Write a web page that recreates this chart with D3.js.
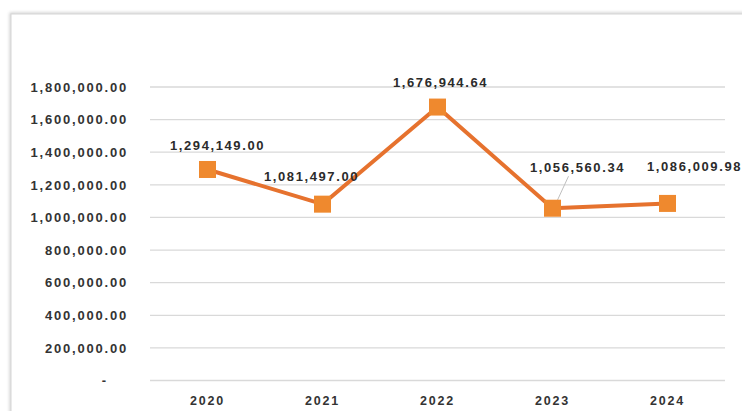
<!DOCTYPE html>
<html>
<head>
<meta charset="utf-8">
<script src="https://cdn.jsdelivr.net/npm/d3@7"></script>
<style>
  html, body { margin: 0; padding: 0; background: #fff; }
  svg { display: block; }
  text { font-family: "Liberation Sans", Arial, sans-serif; }
</style>
</head>
<body>
<svg id="chart" width="742" height="411"></svg>
<script>
// Yearly totals
const years = ["2020", "2021", "2022", "2023", "2024"];
const values = [1294149.00, 1081497.00, 1676944.64, 1056560.34, 1086009.98];
const yTicks = [0, 200000, 400000, 600000, 800000, 1000000, 1200000, 1400000, 1600000, 1800000];

// Label placement relative to each marker (dx, dy of label centre)
const labelOffsets = [[10, -23], [-11, -27], [3, -24], [25, -40], [27, -36]];

const svg = d3.select("#chart");
const plot = { left: 150, right: 725, top: 87, bottom: 380.5 };

// chart frame with soft shadow
const defs = svg.append("defs");
const f = defs.append("filter").attr("id", "sh").attr("x", "-5%").attr("y", "-5%").attr("width", "110%").attr("height", "110%");
f.append("feGaussianBlur").attr("stdDeviation", 1.5);
svg.append("rect").attr("x", 11).attr("y", 14).attr("width", 760).attr("height", 430)
  .attr("fill", "none").attr("stroke", "#cfcfcf").attr("stroke-width", 3).attr("filter", "url(#sh)");
svg.append("rect").attr("x", 11).attr("y", 14).attr("width", 760).attr("height", 430)
  .attr("fill", "#fff").attr("stroke", "#d6d6d6").attr("stroke-width", 1);

const x = d3.scaleBand().domain(years).range([plot.left, plot.right]);
const y = d3.scaleLinear().domain([0, 1800000]).range([plot.bottom, plot.top]);

const fmt = d3.format(",.2f");

// horizontal gridlines
svg.append("g").selectAll("line").data(yTicks).join("line")
  .attr("x1", plot.left).attr("x2", plot.right)
  .attr("y1", d => y(d)).attr("y2", d => y(d))
  .attr("stroke", "#d9d9d9").attr("stroke-width", 1.3);

// y axis
const yAxis = svg.append("g").attr("transform", `translate(${plot.left - 22},0)`)
  .call(d3.axisLeft(y).tickValues(yTicks).tickSize(0).tickPadding(0)
    .tickFormat(d => d === 0 ? "-" : fmt(d)));
yAxis.select(".domain").remove();
yAxis.selectAll("text")
  .attr("font-size", 13).attr("font-weight", "bold").attr("letter-spacing", 1.8)
  .attr("fill", "#333").attr("dx", d => d === 0 ? -20 : 0);

// x axis
const xAxis = svg.append("g").attr("transform", `translate(0,${plot.bottom + 16})`)
  .call(d3.axisBottom(x).tickSize(0).tickPadding(0));
xAxis.select(".domain").remove();
xAxis.selectAll("text")
  .attr("font-size", 12.5).attr("font-weight", "bold").attr("letter-spacing", 1.8)
  .attr("fill", "#333").attr("dy", "0.71em");

const cx = d => x(d) + x.bandwidth() / 2;
const pts = years.map((yr, i) => ({ yr, v: values[i], i }));

// line
svg.append("path").datum(pts)
  .attr("fill", "none").attr("stroke", "#e6722e").attr("stroke-width", 4)
  .attr("stroke-linejoin", "round")
  .attr("d", d3.line().x(d => cx(d.yr)).y(d => y(d.v)));

// leader line for the 2023 label
const p3 = pts[3];
svg.append("line")
  .attr("x1", cx(p3.yr) + 16).attr("y1", y(p3.v) + labelOffsets[3][1] + 8)
  .attr("x2", cx(p3.yr) + 4).attr("y2", y(p3.v) - 6)
  .attr("stroke", "#bfbfbf").attr("stroke-width", 1);

// square markers
const ms = 17;
svg.append("g").selectAll("rect").data(pts).join("rect")
  .attr("x", d => cx(d.yr) - ms / 2).attr("y", d => y(d.v) - ms / 2)
  .attr("width", ms).attr("height", ms)
  .attr("fill", "#ef892e");

// data labels
svg.append("g").selectAll("text").data(pts).join("text")
  .attr("x", d => cx(d.yr) + labelOffsets[d.i][0])
  .attr("y", d => y(d.v) + labelOffsets[d.i][1])
  .attr("text-anchor", "middle").attr("dominant-baseline", "middle")
  .attr("font-size", 13).attr("font-weight", "bold").attr("letter-spacing", 1.6)
  .attr("fill", "#2b2b2b")
  .text(d => fmt(d.v));
</script>
</body>
</html>
